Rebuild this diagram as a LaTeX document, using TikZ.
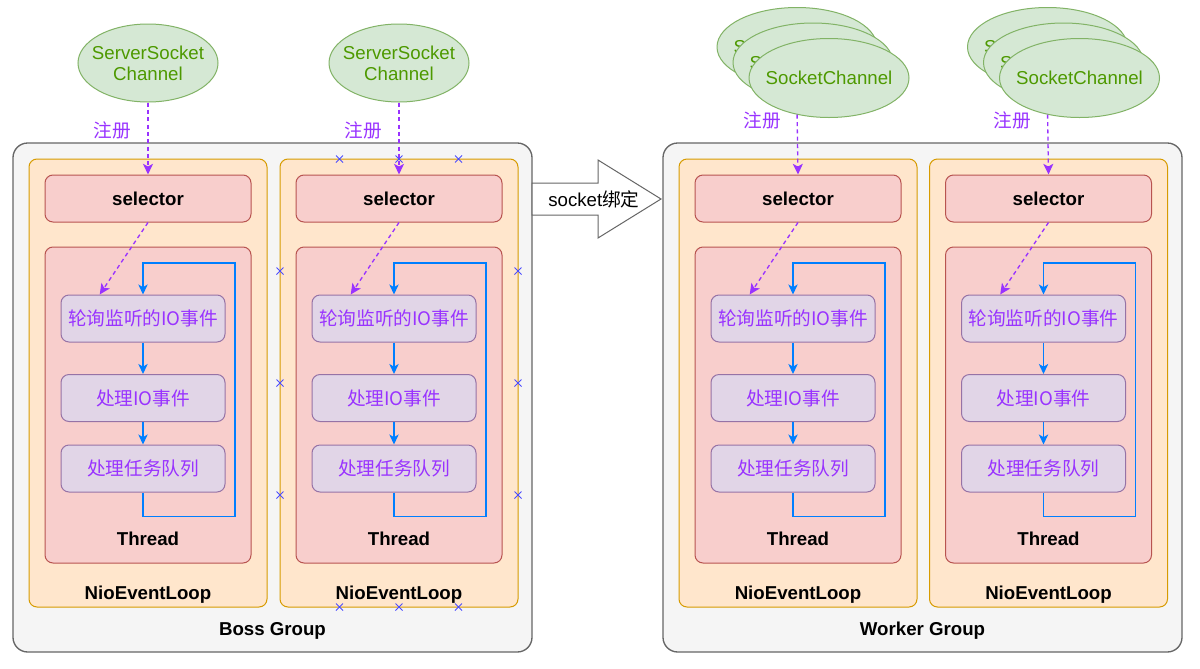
\documentclass[tikz,border=0pt]{standalone}
\usepackage{fontspec}
\setmainfont{Liberation Sans}
\newfontfamily\cjk{Noto Sans CJK SC}
\usetikzlibrary{shapes.geometric,arrows.meta}

\definecolor{grpfill}{HTML}{F5F5F5}
\definecolor{grpline}{HTML}{666666}
\definecolor{niofill}{HTML}{FFE6CC}
\definecolor{nioline}{HTML}{D79B00}
\definecolor{redfill}{HTML}{F8CECC}
\definecolor{redline}{HTML}{B85450}
\definecolor{pfill}{HTML}{E1D5E7}
\definecolor{pline}{HTML}{9673A6}
\definecolor{ptext}{HTML}{9933FF}
\definecolor{gfill}{HTML}{D5E8D4}
\definecolor{gline}{HTML}{82B366}
\definecolor{gtext}{HTML}{4D9900}
\definecolor{bline}{HTML}{007FFF}
\definecolor{xline}{HTML}{4C4CFF}

\newcommand{\ctr}[1]{\makebox[0pt]{#1}}

\tikzset{
  grpbox/.style={draw=grpline, fill=grpfill, line width=1pt, rounded corners=11pt, inner sep=0pt, minimum width=389.25pt, minimum height=381.75pt},
  loopbox/.style={draw=nioline, fill=niofill, line width=0.75pt, rounded corners=6pt, inner sep=0pt, minimum width=178.5pt, minimum height=336pt},
  selbox/.style={draw=redline, fill=redfill, line width=0.75pt, rounded corners=6pt, inner sep=0pt, minimum width=154.5pt, minimum height=35.25pt, font=\bfseries\fontsize{14}{16}\selectfont},
  thbox/.style={draw=redline, fill=redfill, line width=0.75pt, rounded corners=6pt, inner sep=0pt, minimum width=154.5pt, minimum height=237pt},
  stepbox/.style={draw=pline, fill=pfill, line width=0.75pt, rounded corners=6pt, inner sep=0pt, minimum width=123pt, minimum height=35.25pt, text=ptext, font=\cjk\fontsize{14}{16}\selectfont},
  chan/.style={ellipse, draw=gline, fill=gfill, line width=0.75pt, text=gtext, align=center, inner sep=0pt, font=\fontsize{14}{16}\selectfont},
  boldtxt/.style={inner sep=0.75pt, font=\bfseries\fontsize{14}{16}\selectfont},
  regtxt/.style={inner sep=0.75pt, text=ptext, font=\cjk\fontsize{14}{16}\selectfont},
  reg/.style={draw=ptext, line width=1pt, dash pattern=on 3pt off 2.5pt, -{Stealth[length=8pt,width=7.5pt,inset=2pt]}},
  flow/.style={draw=bline, line width=1pt, -{Stealth[length=7.5pt,width=7pt,inset=2pt]}},
  xcross/.style={draw=xline, line width=0.75pt},
}

\begin{document}
\begin{tikzpicture}[x=0.75pt,y=0.75pt,yscale=-1,xscale=1]
\useasboundingbox[fill=white] (0,0) rectangle (1200,668);

% Groups
\node[grpbox] (boss) at (272.5,397.5) {};
\node[boldtxt] (bosslbl) at (272.5,631) {Boss Group};
\node[grpbox] (worker) at (922.5,397.5) {};
\node[boldtxt] (workerlbl) at (922.5,631) {Worker Group};

% NioEventLoop 1
\node[loopbox] (loop1) at (148,383) {};
\node[boldtxt] (loop1lbl) at (148,595) {NioEventLoop};
\node[selbox] (sel1) at (148,198.5) {selector};
\node[thbox] (th1) at (148,405) {};
\node[boldtxt] (th1lbl) at (148,539) {Thread};
\node[stepbox] (poll1) at (143,318.5) {轮询监听的IO事件};
\node[stepbox] (io1) at (143,398) {处理IO事件};
\node[stepbox] (task1) at (143,468.5) {处理任务队列};
\draw[flow] (poll1) -- (io1);
\draw[flow] (io1) -- (task1);
\draw[flow] (task1.south) -- ++(0,24) -| (235,263) -| (poll1.north);
\draw[reg] (sel1.south) -- (poll1.151);

% NioEventLoop 2
\node[loopbox] (loop2) at (399,383) {};
\node[boldtxt] (loop2lbl) at (399,595) {NioEventLoop};
\node[selbox] (sel2) at (399,198.5) {selector};
\node[thbox] (th2) at (399,405) {};
\node[boldtxt] (th2lbl) at (399,539) {Thread};
\node[stepbox] (poll2) at (394,318.5) {轮询监听的IO事件};
\node[stepbox] (io2) at (394,398) {处理IO事件};
\node[stepbox] (task2) at (394,468.5) {处理任务队列};
\draw[flow] (poll2) -- (io2);
\draw[flow] (io2) -- (task2);
\draw[flow] (task2.south) -- ++(0,24) -| (486,263) -| (poll2.north);
\draw[reg] (sel2.south) -- (poll2.151);

% NioEventLoop 3
\node[loopbox] (loop3) at (798,383) {};
\node[boldtxt] (loop3lbl) at (798,595) {NioEventLoop};
\node[selbox] (sel3) at (798,198.5) {selector};
\node[thbox] (th3) at (798,405) {};
\node[boldtxt] (th3lbl) at (798,539) {Thread};
\node[stepbox] (poll3) at (793,318.5) {轮询监听的IO事件};
\node[stepbox] (io3) at (793,398) {处理IO事件};
\node[stepbox] (task3) at (793,468.5) {处理任务队列};
\draw[flow] (poll3) -- (io3);
\draw[flow] (io3) -- (task3);
\draw[flow] (task3.south) -- ++(0,24) -| (885,263) -| (poll3.north);
\draw[reg] (sel3.south) -- (poll3.151);

% NioEventLoop 4
\node[loopbox] (loop4) at (1048.5,383) {};
\node[boldtxt] (loop4lbl) at (1048.5,595) {NioEventLoop};
\node[selbox] (sel4) at (1048.5,198.5) {selector};
\node[thbox] (th4) at (1048.5,405) {};
\node[boldtxt] (th4lbl) at (1048.5,539) {Thread};
\node[stepbox] (poll4) at (1043.5,318.5) {轮询监听的IO事件};
\node[stepbox] (io4) at (1043.5,398) {处理IO事件};
\node[stepbox] (task4) at (1043.5,468.5) {处理任务队列};
\draw[flow] (poll4) -- (io4);
\draw[flow] (io4) -- (task4);
\draw[flow] (task4.south) -- ++(0,24) -| (1135.5,263) -| (poll4.north);
\draw[reg] (sel4.south) -- (poll4.151);

% Channels
\node[chan, minimum width=105pt, minimum height=58.5pt] (ssc1) at (148,63) {\ctr{ServerSocket}\\\ctr{Channel}};
\node[chan, minimum width=105pt, minimum height=58.5pt] (ssc2) at (399,63) {\ctr{ServerSocket}\\\ctr{Channel}};
\node[chan, minimum width=120pt, minimum height=59.25pt] (sc3c) at (797,47) {\ctr{SocketChannel}};
\node[chan, minimum width=120pt, minimum height=59.25pt] (sc3b) at (813,62.5) {\ctr{SocketChannel}};
\node[chan, minimum width=120pt, minimum height=59.25pt] (sc3a) at (829,78) {\ctr{SocketChannel}};
\node[chan, minimum width=120pt, minimum height=59.25pt] (sc4c) at (1047.5,47) {\ctr{SocketChannel}};
\node[chan, minimum width=120pt, minimum height=59.25pt] (sc4b) at (1063.5,62.5) {\ctr{SocketChannel}};
\node[chan, minimum width=120pt, minimum height=59.25pt] (sc4a) at (1079.5,78) {\ctr{SocketChannel}};

% register arrows
\draw[reg] (ssc1.south) -- (sel1.north);
\draw[reg] (ssc2.south) -- (sel2.north);
\draw[reg] (sc3a.-131) -- (sel3.north);
\draw[reg] (sc4a.-131) -- (sel4.north);
\node[regtxt] (reg1) at (112.5,130) {注册};
\node[regtxt] (reg2) at (363,130) {注册};
\node[regtxt] (reg3) at (762,120) {注册};
\node[regtxt] (reg4) at (1012,120) {注册};

% bind arrow
\draw[draw=grpline, fill=white, line width=0.75pt] (532,183) -- (598,183) -- (598,160) -- (661,199) -- (598,238) -- (598,215) -- (532,215) -- cycle;
\node[inner sep=0.75pt, font=\fontsize{14}{16}\selectfont] (bindlbl) at (594,199) {socket{\cjk 绑定}};

% selection marks
\foreach \p in {(339.5,159),(399,159),(458.5,159),(280,271),(280,383),(280,495),(518,271),(518,383),(518,495),(339.5,607),(399,607),(458.5,607)}
  \draw[xcross] \p +(-3.5,-3.5) -- +(3.5,3.5) +(-3.5,3.5) -- +(3.5,-3.5);

\end{tikzpicture}
\end{document}
